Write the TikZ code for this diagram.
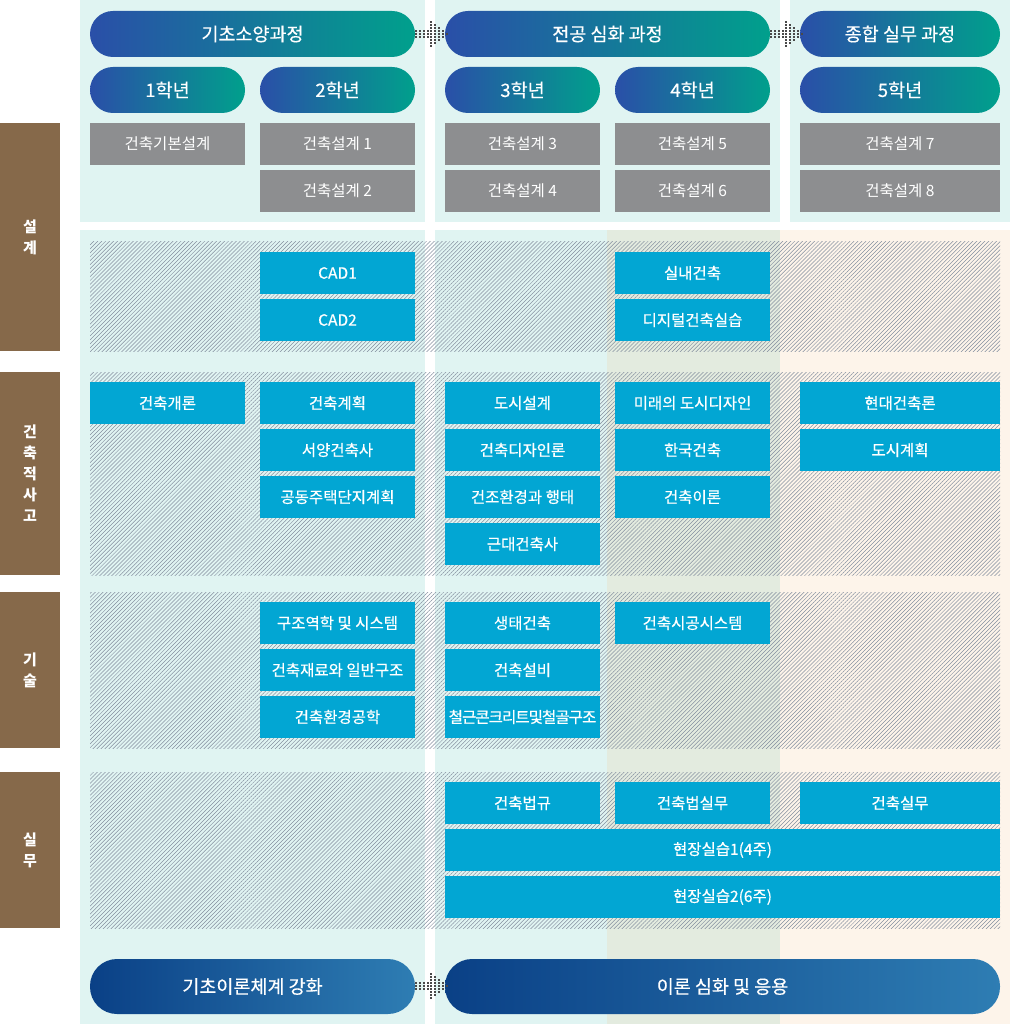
\documentclass[tikz,border=0pt]{standalone}
\usepackage{fontspec}
\setmainfont{Noto Sans CJK KR}
\usetikzlibrary{patterns.meta}
\definecolor{bgteal}{HTML}{E0F4F2}
\definecolor{bggreen}{HTML}{E3EBDF}
\definecolor{bgpeach}{HTML}{FDF4EA}
\definecolor{boxgray}{HTML}{8D8E90}
\definecolor{boxblue}{HTML}{02A6D3}
\definecolor{brown}{HTML}{86694A}
\definecolor{hatch}{HTML}{8590A0}
\definecolor{pillA}{HTML}{2A4FA8}
\definecolor{pillB}{HTML}{00A08C}
\definecolor{darkA}{HTML}{0A4086}
\definecolor{darkB}{HTML}{2E7DB3}
\definecolor{dotc}{HTML}{4A4A4A}
\tikzset{
  base/.style={inner sep=0pt, outer sep=0pt, text=white, align=center},
  pill/.style={base, rounded corners=23pt, minimum height=46pt, left color=pillA, right color=pillB, font=\fontsize{18.5}{22}\selectfont\addfontfeature{FakeBold=0.3}},
  dpill/.style={base, rounded corners=27pt, minimum height=55pt, left color=darkA, right color=darkB, font=\fontsize{18.5}{22}\selectfont\addfontfeature{FakeBold=0.3}},
  graybox/.style={base, fill=boxgray, minimum height=42pt, font=\fontsize{15.5}{18}\selectfont},
  bluebox/.style={base, fill=boxblue, minimum height=42pt, font=\fontsize{15.5}{18}\selectfont\addfontfeature{FakeBold=0.5}},
  narrow/.style={minimum width=155pt},
  wide/.style={minimum width=200pt},
  side/.style={base, fill=brown, minimum width=60pt, font=\bfseries\fontsize{15}{21}\selectfont},
  hatchband/.style={pattern={Lines[angle=45,distance=2.8pt,line width=0.5pt]}, pattern color=hatch}
}
\newcommand{\dotarrow}[2]{%
  \foreach \i in {1,5,9,13}{\foreach \j in {-3,0,3}{\fill[dotc] (#1+\i-0.7,#2+\j-0.7) rectangle ++(1.4,1.4);}}
  \foreach \j in {-12,-9,...,12}{\fill[dotc] (#1+16-0.7,#2+\j-0.7) rectangle ++(1.4,1.4);}
  \foreach \j in {-9,-6,...,9}{\fill[dotc] (#1+20-0.7,#2+\j-0.7) rectangle ++(1.4,1.4);}
  \foreach \j in {-6,-3,...,6}{\fill[dotc] (#1+24-0.7,#2+\j-0.7) rectangle ++(1.4,1.4);}
  \foreach \j in {-3,0,3}{\fill[dotc] (#1+28-0.7,#2+\j-0.7) rectangle ++(1.4,1.4);}
  \fill[dotc] (#1+32-0.7,#2-0.7) rectangle ++(1.4,1.4);
}
\begin{document}
\begin{tikzpicture}[x=1pt,y=-1pt]
\useasboundingbox (0,0) rectangle (1010,1024);
% backgrounds
\fill[bgteal] (80,0) rectangle (425,222);
\fill[bgteal] (435,0) rectangle (780,222);
\fill[bgteal] (790,0) rectangle (1010,222);
\fill[bgteal] (80,230) rectangle (425,1024);
\fill[bgteal] (435,230) rectangle (607,1024);
\fill[bggreen] (607,230) rectangle (780,1024);
\fill[bgpeach] (780,230) rectangle (1010,1024);
% hatched bands
\fill[hatchband] (90,241) rectangle (1000,351);
\fill[hatchband] (90,372) rectangle (1000,575);
\fill[hatchband] (90,592) rectangle (1000,748);
\fill[hatchband] (90,772) rectangle (1000,928);
% side labels
\node[side, minimum height=228pt] (s1) at (30,237) {설\\계};
\node[side, minimum height=203pt] (s2) at (30,473.5) {건\\축\\적\\사\\고};
\node[side, minimum height=156pt] (s3) at (30,670) {기\\술};
\node[side, minimum height=156pt] (s4) at (30,850) {실\\무};
% top pills
\node[pill, minimum width=325pt] (p1) at (252.5,34) {기초소양과정};
\node[pill, minimum width=325pt] (p2) at (607.5,34) {전공 심화 과정};
\node[pill, minimum width=200pt] (p3) at (900,34) {종합 실무 과정};
\node[pill, narrow] (y1) at (167.5,90) {1학년};
\node[pill, narrow] (y2) at (337.5,90) {2학년};
\node[pill, narrow] (y3) at (522.5,90) {3학년};
\node[pill, narrow] (y4) at (692.5,90) {4학년};
\node[pill, wide] (y5) at (900,90) {5학년};
% gray boxes
\node[graybox, narrow] (g0) at (167.5,144) {건축기본설계};
\node[graybox, narrow] (g1) at (337.5,144) {건축설계 1};
\node[graybox, narrow] (g2) at (337.5,191) {건축설계 2};
\node[graybox, narrow] (g3) at (522.5,144) {건축설계 3};
\node[graybox, narrow] (g4) at (522.5,191) {건축설계 4};
\node[graybox, narrow] (g5) at (692.5,144) {건축설계 5};
\node[graybox, narrow] (g6) at (692.5,191) {건축설계 6};
\node[graybox, wide] (g7) at (900,144) {건축설계 7};
\node[graybox, wide] (g8) at (900,191) {건축설계 8};
% 설계 band
\node[bluebox, narrow] (c1) at (337.5,273) {CAD1};
\node[bluebox, narrow] (c2) at (337.5,320) {CAD2};
\node[bluebox, narrow] (c3) at (692.5,273) {실내건축};
\node[bluebox, narrow] (c4) at (692.5,320) {디지털건축실습};
% 건축적사고 band
\node[bluebox, narrow] (t1) at (167.5,403) {건축개론};
\node[bluebox, narrow] (t2) at (337.5,403) {건축계획};
\node[bluebox, narrow] (t3) at (337.5,450) {서양건축사};
\node[bluebox, narrow] (t4) at (337.5,497) {공동주택단지계획};
\node[bluebox, narrow] (t5) at (522.5,403) {도시설계};
\node[bluebox, narrow] (t6) at (522.5,450) {건축디자인론};
\node[bluebox, narrow] (t7) at (522.5,497) {건조환경과 행태};
\node[bluebox, narrow] (t8) at (522.5,544) {근대건축사};
\node[bluebox, narrow] (t9) at (692.5,403) {미래의 도시디자인};
\node[bluebox, narrow] (t10) at (692.5,450) {한국건축};
\node[bluebox, narrow] (t11) at (692.5,497) {건축이론};
\node[bluebox, wide] (t12) at (900,403) {현대건축론};
\node[bluebox, wide] (t13) at (900,450) {도시계획};
% 기술 band
\node[bluebox, narrow] (k1) at (337.5,623) {구조역학 및 시스템};
\node[bluebox, narrow] (k2) at (337.5,670) {건축재료와 일반구조};
\node[bluebox, narrow] (k3) at (337.5,717) {건축환경공학};
\node[bluebox, narrow] (k4) at (522.5,623) {생태건축};
\node[bluebox, narrow] (k5) at (522.5,670) {건축설비};
\node[bluebox, narrow] (k6) at (522.5,717) {\addfontfeature{LetterSpace=-6}철근콘크리트및철골구조};
\node[bluebox, narrow] (k7) at (692.5,623) {건축시공시스템};
% 실무 band
\node[bluebox, narrow] (m1) at (522.5,803) {건축법규};
\node[bluebox, narrow] (m2) at (692.5,803) {건축법실무};
\node[bluebox, wide] (m3) at (900,803) {건축실무};
\node[bluebox, minimum width=555pt] (m4) at (722.5,850) {현장실습1(4주)};
\node[bluebox, minimum width=555pt] (m5) at (722.5,897) {현장실습2(6주)};
% bottom pills
\node[dpill, minimum width=325pt] (b1) at (252.5,986.5) {기초이론체계 강화};
\node[dpill, minimum width=555pt] (b2) at (722.5,986.5) {이론 심화 및 응용};
% dotted arrows
\dotarrow{415}{34}
\dotarrow{770}{34}
\dotarrow{415}{986}
\end{tikzpicture}
\end{document}
